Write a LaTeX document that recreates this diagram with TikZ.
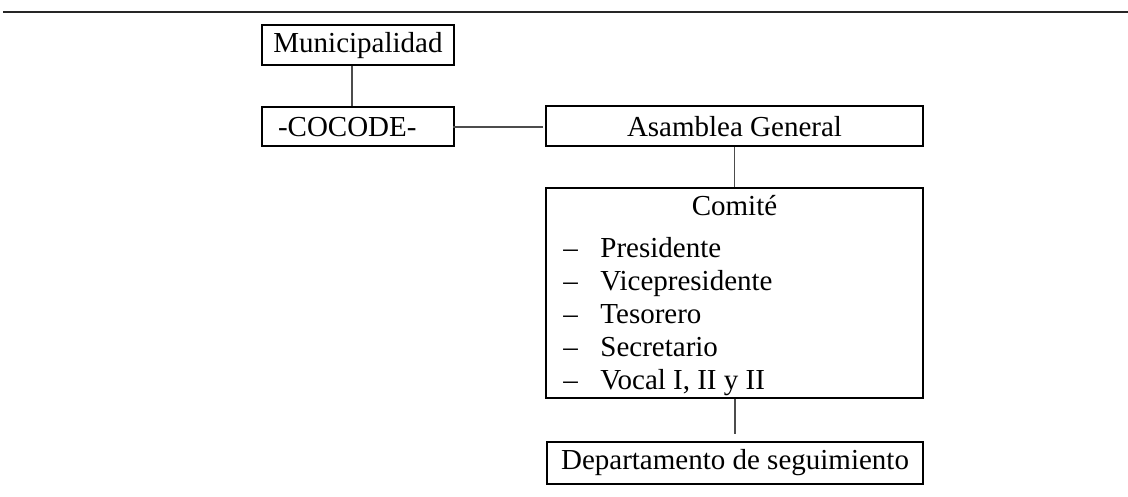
\documentclass[tikz,border=0pt]{standalone}
\usepackage{fontspec}
\setmainfont{Liberation Serif}
\usetikzlibrary{positioning}

\begin{document}
\begin{tikzpicture}[x=0.5pt,y=-0.5pt,
         box/.style={draw=black,line width=1pt,inner sep=0pt,minimum height=20pt,font=\fontsize{14.5}{16.5}\selectfont},
         link/.style={draw=black!70,line width=0.6pt},
         txt/.style={inner sep=0pt,anchor=base west,font=\fontsize{14.5}{16.5}\selectfont}]
         \useasboundingbox (0,0) rectangle (1128,497);
         \draw[black!85,line width=1.4pt] (3,12) coordinate (R1) -- (1128,12) coordinate (R2);
         \node[box,minimum width=96pt] (MUN) at (358,45.5) {Municipalidad};
         \node[box,text width=80pt,inner xsep=8pt,align=left,minimum height=19.5pt] (COC) at (358,127) {-COCODE-};
         \node[box,minimum width=188.5pt] (ASA) at (734.5,126.5) {Asamblea General};
         \node[box,minimum width=188.5pt,minimum height=105pt] (COM) at (734.5,293) {};
         \node[box,minimum width=188pt,minimum height=21pt] (DEP) at (735,463) {Departamento de seguimiento};
         \node[txt,anchor=base] (CT) at (734.5,215) {Comité};
         \foreach \t [count=\i] in {Presidente,Vicepresidente,Tesorero,Secretario,{Vocal I, II y II}}{
           \node[txt] (D\i) at (563,{224+33*\i}) {–};
           \node[txt] (T\i) at (600,{224+33*\i}) {\t};
         }
         \draw[link] ([xshift=-3pt]MUN.south) -- ([xshift=-3pt]COC.north);
         \draw[link] ([xshift=-1pt]COC.east) -- ([xshift=-1pt]COC.east -| ASA.west);
         \draw[link] (ASA.south) -- (COM.north);
         \draw[link] ([xshift=0.25pt]COM.south) -- ([yshift=3.5pt]DEP.north);
       \end{tikzpicture}
\end{document}
